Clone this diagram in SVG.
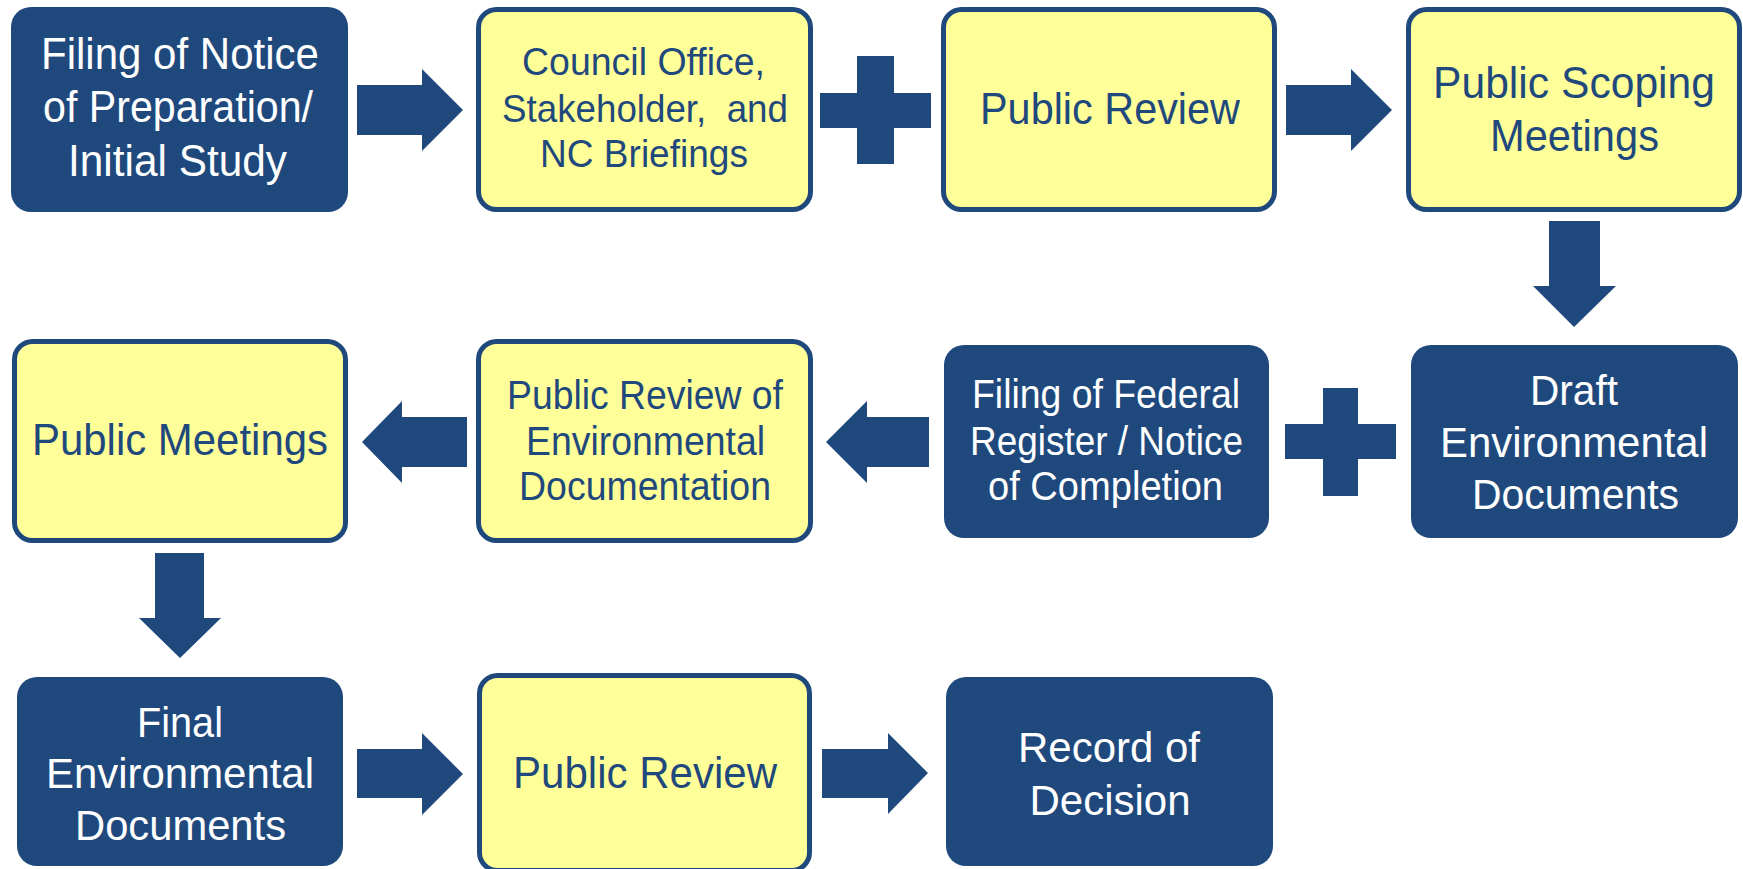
<svg xmlns="http://www.w3.org/2000/svg" width="1743" height="869" viewBox="0 0 1743 869">
<style>
.dark{fill:#1F497D;}
.yel{fill:#FFFF99;stroke:#1F497D;stroke-width:5;}
text{font-family:"Liberation Sans Narrow","Liberation Sans",Arial,sans-serif;text-anchor:middle;}
.tw{fill:#FFFFFF;}
.tb{fill:#1F497D;}
.big{font-size:44px;}
.mid{font-size:40px;}
.med{font-size:42px;}
.conn{fill:#1F497D;}
</style>
<rect width="1743" height="869" fill="#FFFFFF"/>
<g id="connectors">
<polygon class="conn" points="357,85 422,85 422,69 463,110 422,151 422,135 357,135"/>
<path class="conn" d="M857,56H894V93H931V128H894V164H857V128H820V93H857Z"/>
<polygon class="conn" points="1286,85 1351,85 1351,69 1392,110 1351,151 1351,135 1286,135"/>
<polygon class="conn" points="1549,221 1600,221 1600,286 1616,286 1574,327 1533,286 1549,286"/>
<path class="conn" d="M1323,388H1358V424H1396V459H1358V496H1323V459H1285V424H1323Z"/>
<polygon class="conn" points="929,417 867,417 867,401 826,442 867,483 867,467 929,467"/>
<polygon class="conn" points="467,417 402,417 402,401 362,442 402,483 402,467 467,467"/>
<polygon class="conn" points="155,553 204,553 204,618 221,618 180,658 139,618 155,618"/>
<polygon class="conn" points="357,749 422,749 422,733 463,774 422,815 422,798 357,798"/>
<polygon class="conn" points="822,749 888,749 888,733 928,773 888,814 888,798 822,798"/>
</g>
<g id="n1">
<rect class="dark" x="11" y="7" width="337" height="205" rx="20"/>
<text class="tw big" x="180" y="69" textLength="278" lengthAdjust="spacingAndGlyphs">Filing of Notice</text>
<text class="tw big" x="178" y="122" textLength="270" lengthAdjust="spacingAndGlyphs">of Preparation/</text>
<text class="tw big" x="177.5" y="176" textLength="219" lengthAdjust="spacingAndGlyphs">Initial Study</text>
</g>
<g id="n2">
<rect class="yel" x="478.5" y="9.5" width="332" height="200" rx="18"/>
<text class="tb" style="font-size:39px" x="643.5" y="75" textLength="243" lengthAdjust="spacingAndGlyphs">Council Office,</text>
<text class="tb" style="font-size:39px" x="645" y="122" textLength="286" lengthAdjust="spacingAndGlyphs" xml:space="preserve">Stakeholder,  and</text>
<text class="tb" style="font-size:39px" x="644" y="167" textLength="208" lengthAdjust="spacingAndGlyphs">NC Briefings</text>
</g>
<g id="n3">
<rect class="yel" x="943.5" y="9.5" width="331" height="200" rx="18"/>
<text class="tb big" x="1110" y="124" textLength="260" lengthAdjust="spacingAndGlyphs">Public Review</text>
</g>
<g id="n4">
<rect class="yel" x="1408.5" y="9.5" width="331" height="200" rx="18"/>
<text class="tb big" x="1574" y="98" textLength="282" lengthAdjust="spacingAndGlyphs">Public Scoping</text>
<text class="tb big" x="1574.5" y="151" textLength="169" lengthAdjust="spacingAndGlyphs">Meetings</text>
</g>
<g id="n5">
<rect class="dark" x="1411" y="345" width="327" height="193" rx="20"/>
<text class="tw med" x="1574" y="405" textLength="88" lengthAdjust="spacingAndGlyphs">Draft</text>
<text class="tw med" x="1574" y="457" textLength="268" lengthAdjust="spacingAndGlyphs">Environmental</text>
<text class="tw med" x="1575.5" y="509" textLength="207" lengthAdjust="spacingAndGlyphs">Documents</text>
</g>
<g id="n6">
<rect class="dark" x="944" y="345" width="325" height="193" rx="20"/>
<text class="tw mid" x="1106" y="408" textLength="268" lengthAdjust="spacingAndGlyphs">Filing of Federal</text>
<text class="tw mid" x="1106.5" y="455" textLength="273" lengthAdjust="spacingAndGlyphs">Register / Notice</text>
<text class="tw mid" x="1105.5" y="500" textLength="235" lengthAdjust="spacingAndGlyphs">of Completion</text>
</g>
<g id="n7">
<rect class="yel" x="478.5" y="341.5" width="332" height="199" rx="18"/>
<text class="tb mid" x="645" y="409" textLength="276" lengthAdjust="spacingAndGlyphs">Public Review of</text>
<text class="tb mid" x="645.5" y="455" textLength="239" lengthAdjust="spacingAndGlyphs">Environmental</text>
<text class="tb mid" x="645" y="500" textLength="252" lengthAdjust="spacingAndGlyphs">Documentation</text>
</g>
<g id="n8">
<rect class="yel" x="14.5" y="341.5" width="331" height="199" rx="18"/>
<text class="tb big" x="180" y="455" textLength="296" lengthAdjust="spacingAndGlyphs">Public Meetings</text>
</g>
<g id="n9">
<rect class="dark" x="17" y="677" width="326" height="189" rx="20"/>
<text class="tw med" x="180" y="737" textLength="86" lengthAdjust="spacingAndGlyphs">Final</text>
<text class="tw med" x="180" y="788" textLength="268" lengthAdjust="spacingAndGlyphs">Environmental</text>
<text class="tw med" x="180.5" y="840" textLength="211" lengthAdjust="spacingAndGlyphs">Documents</text>
</g>
<g id="n10">
<rect class="yel" x="479.5" y="675.5" width="330" height="195" rx="18"/>
<text class="tb big" x="645" y="788" textLength="264" lengthAdjust="spacingAndGlyphs">Public Review</text>
</g>
<g id="n11">
<rect class="dark" x="946" y="677" width="327" height="189" rx="20"/>
<text class="tw med" x="1109" y="762" textLength="182" lengthAdjust="spacingAndGlyphs">Record of</text>
<text class="tw med" x="1110" y="815" textLength="161" lengthAdjust="spacingAndGlyphs">Decision</text>
</g>
</svg>
